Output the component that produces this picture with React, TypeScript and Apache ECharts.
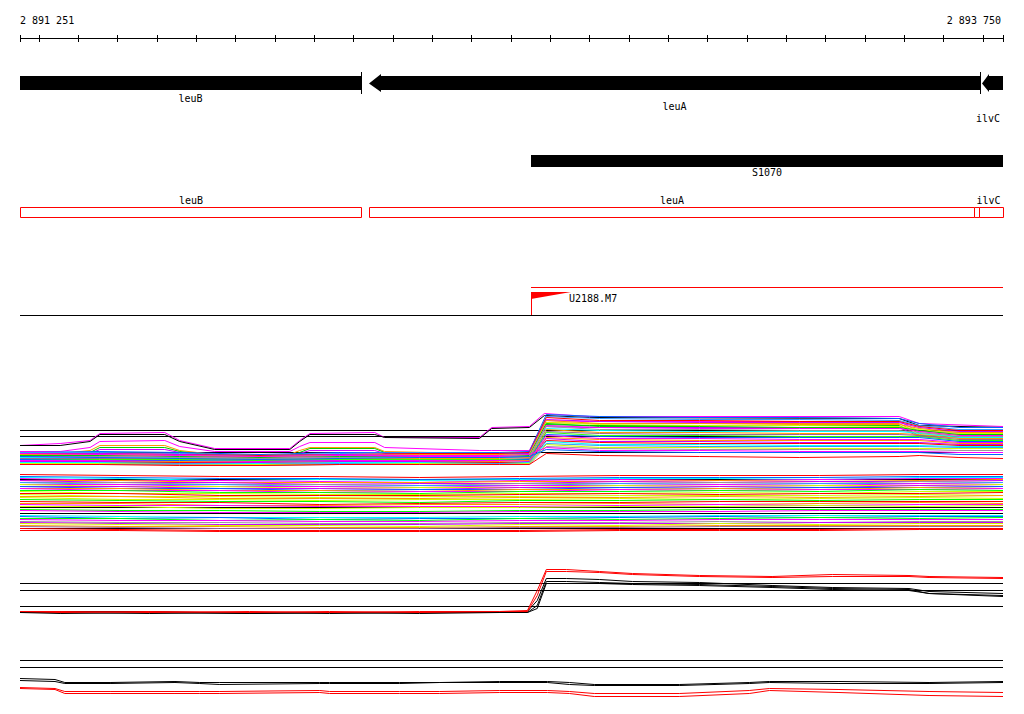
import React, { useEffect, useRef } from 'react';
import * as echarts from 'echarts';

// ---------- genomic window ----------
const viewStart = 2891251;
const viewEnd = 2893750;

const rulerTicks = [
  2891251, 2891300, 2891400, 2891500, 2891600, 2891700, 2891800, 2891900, 2892000,
  2892100, 2892200, 2892300, 2892400, 2892500, 2892600, 2892700, 2892800, 2892900,
  2893000, 2893100, 2893200, 2893300, 2893400, 2893500, 2893600, 2893700, 2893750,
];
const rulerLabels = ['2 891 251', '2 893 750'];

// ---------- annotation tracks ----------
const geneNames = ['leuB', 'leuA', 'ilvC'];
const geneStarts = [2891251, 2892137, 2893697];
const geneEnds = [2892117, 2893692, 2893750];

const segmentNames = ['S1070'];
const segmentStarts = [2892549];
const segmentEnds = [2893750];

const boxNames = ['leuB', 'leuA', '', 'ilvC'];
const boxStarts = [2891251, 2892138, 2893676, 2893689];
const boxEnds = [2892118, 2893676, 2893689, 2893750];

const siteNames = ['U2188.M7'];
const siteStarts = [2892549];
const siteEnds = [2893750];

// ---------- expression profiles ----------
const referenceLevels = [430, 436, 452, 479, 507, 513, 528, 583, 590, 606, 660, 667];

const upperX = [2891251, 2891454, 2891657, 2891861, 2892064, 2892267, 2892470, 2892546, 2892589, 2892724, 2892978, 2893232, 2893486, 2893537, 2893638, 2893750];
const upperColors = [
  '#0066ff', '#3399ff', '#ff0000', '#cc00ff', '#ff9900', '#ccff00', '#00cc00', '#ff00ff',
  '#999999', '#00ffff', '#ff9900', '#996699', '#33ff00', '#0066ff', '#ff00ff', '#ff9900',
  '#cc00ff', '#ff0000', '#00ffff', '#3399ff', '#ccff00', '#999999', '#ff00ff', '#0066ff', '#ff0000',
];
const upperY = [
  [452, 451, 452, 454, 452, 452, 452, 451, 414, 416, 417, 417, 418, 423, 427, 427],
  [452, 452, 453, 455, 453, 452, 453, 452, 416, 418, 419, 419, 420, 425, 429, 429],
  [453, 453, 454, 455, 454, 453, 453, 452, 417, 420, 420, 421, 421, 426, 430, 430],
  [454, 453, 454, 456, 454, 454, 454, 453, 419, 421, 422, 422, 422, 427, 431, 431],
  [454, 454, 455, 456, 455, 454, 454, 454, 420, 423, 423, 424, 424, 428, 432, 432],
  [455, 455, 456, 457, 455, 455, 455, 454, 422, 424, 425, 425, 426, 429, 433, 433],
  [455, 455, 456, 457, 456, 456, 456, 455, 423, 426, 426, 427, 427, 430, 434, 434],
  [456, 456, 457, 458, 457, 456, 456, 456, 425, 427, 428, 428, 428, 431, 435, 435],
  [457, 456, 457, 458, 457, 457, 457, 456, 426, 429, 429, 430, 430, 432, 436, 436],
  [457, 457, 458, 459, 458, 457, 457, 457, 428, 430, 431, 431, 431, 433, 437, 437],
  [458, 458, 458, 459, 458, 458, 458, 457, 429, 432, 432, 433, 433, 434, 438, 438],
  [458, 458, 459, 460, 459, 459, 459, 458, 431, 433, 434, 434, 434, 435, 439, 439],
  [459, 459, 459, 460, 459, 459, 459, 459, 432, 435, 435, 436, 436, 436, 440, 440],
  [459, 460, 460, 461, 460, 460, 460, 459, 434, 436, 437, 437, 437, 437, 441, 441],
  [460, 460, 461, 461, 460, 460, 460, 460, 435, 438, 438, 439, 439, 439, 442, 442],
  [461, 461, 461, 462, 461, 461, 461, 460, 437, 439, 440, 440, 440, 440, 443, 443],
  [461, 461, 462, 462, 461, 461, 462, 461, 438, 441, 441, 442, 442, 442, 444, 444],
  [462, 462, 462, 463, 462, 462, 462, 462, 440, 442, 443, 443, 443, 443, 445, 445],
  [462, 462, 463, 463, 462, 462, 463, 462, 441, 444, 444, 445, 445, 445, 446, 446],
  [463, 463, 463, 464, 463, 463, 463, 463, 443, 445, 446, 446, 446, 446, 447, 447],
  [463, 463, 464, 464, 464, 463, 464, 463, 444, 447, 447, 448, 448, 448, 448, 448],
  [464, 464, 464, 465, 464, 464, 464, 464, 446, 448, 449, 449, 449, 449, 450, 450],
  [453, 454, 455, 456, 455, 455, 455, 454, 447, 450, 450, 451, 451, 451, 452, 452],
  [456, 457, 458, 459, 458, 457, 457, 456, 449, 451, 452, 452, 452, 452, 454, 454],
  [464, 464, 465, 465, 464, 464, 464, 464, 453, 455, 456, 457, 456, 455, 457, 458],
];

const wiggleX = [2891251, 2891353, 2891429, 2891454, 2891619, 2891657, 2891746, 2891937, 2891962, 2891988, 2892153, 2892178, 2892419, 2892450, 2892546, 2892584, 2892699, 2893486, 2893537, 2893750];
const wiggleColors = ['#ff00ff', '#000000', '#ff00ff', '#ff9900', '#00cc00', '#cc00ff'];
const wiggleY = [
  [445, 443, 440, 433, 432, 440, 448, 448, 440, 433, 432, 437, 437, 427, 426, 413, 416, 416, 423, 426],
  [445, 445, 441, 434, 434, 441, 449, 449, 441, 434, 434, 437, 438, 428, 427, 415, 417, 418, 425, 427],
  [451, 451, 447, 441, 440, 446, 451, 451, 446, 442, 442, 447, 450, 450, 450, 420, 421, 421, 431, 433],
  [453, 453, 450, 445, 445, 450, 454, 454, 450, 447, 447, 451, 453, 452, 452, 422, 423, 423, 433, 435],
  [454, 454, 452, 447, 447, 451, 455, 455, 452, 448, 448, 452, 454, 453, 453, 424, 425, 425, 435, 437],
  [455, 455, 453, 449, 449, 452, 456, 456, 453, 450, 450, 453, 455, 454, 454, 426, 427, 427, 436, 438],
];

const lowerX = [2891251, 2891505, 2891759, 2892013, 2892267, 2892521, 2892775, 2893029, 2893283, 2893537, 2893750];
const lowerColors = [
  '#ff0000', '#0066ff', '#00ffff', '#ff00ff', '#ff9900', '#cc00ff', '#999999', '#3399ff',
  '#ff00ff', '#ccff00', '#cc00ff', '#0066ff', '#ff9900', '#ff00ff', '#00ff00', '#ccff00',
  '#ff0000', '#ccff00', '#ff9900', '#ccff00', '#00ff00', '#ff0000', '#ff9900', '#ff00ff',
  '#ccff00', '#00ff00', '#ff00ff', '#00ffff', '#0066ff', '#00ff00', '#ff00ff', '#999999',
  '#cc00ff', '#ccff00', '#ff9900', '#996699', '#ff0000', '#ff0000',
];
const lowerY = [
  [474, 475, 476, 476, 477, 476, 475, 475, 475, 474, 474],
  [476, 477, 478, 478, 479, 478, 477, 477, 477, 476, 476],
  [477, 478, 480, 479, 480, 479, 478, 478, 479, 477, 477],
  [478, 480, 480, 481, 482, 480, 479, 480, 479, 478, 478],
  [480, 480, 482, 482, 482, 481, 481, 480, 481, 480, 479],
  [480, 482, 482, 484, 483, 483, 481, 482, 481, 481, 480],
  [482, 482, 484, 484, 485, 483, 483, 482, 483, 481, 482],
  [482, 484, 484, 486, 485, 485, 483, 484, 483, 483, 482],
  [484, 484, 486, 486, 487, 485, 485, 484, 485, 483, 484],
  [484, 486, 486, 488, 487, 487, 485, 486, 485, 485, 484],
  [486, 486, 488, 488, 489, 487, 487, 486, 487, 485, 486],
  [486, 488, 488, 490, 489, 489, 487, 488, 487, 487, 486],
  [488, 488, 490, 490, 491, 489, 489, 488, 489, 487, 488],
  [488, 490, 490, 492, 491, 491, 489, 490, 489, 489, 488],
  [490, 490, 492, 492, 493, 491, 491, 490, 491, 489, 490],
  [491, 493, 493, 494, 494, 493, 493, 492, 493, 491, 491],
  [493, 493, 495, 495, 495, 494, 493, 494, 493, 493, 492],
  [494, 496, 496, 497, 496, 496, 495, 495, 495, 494, 495],
  [496, 496, 498, 498, 498, 497, 497, 496, 497, 496, 495],
  [497, 499, 499, 500, 499, 499, 498, 499, 498, 497, 498],
  [499, 500, 501, 501, 502, 500, 500, 499, 500, 499, 499],
  [501, 502, 502, 504, 503, 502, 502, 501, 501, 501, 501],
  [503, 503, 505, 505, 504, 504, 503, 504, 503, 502, 503],
  [504, 505, 505, 506, 506, 506, 505, 504, 505, 504, 504],
  [506, 506, 508, 508, 507, 507, 506, 506, 505, 506, 505],
  [509, 510, 510, 511, 511, 510, 510, 509, 509, 509, 509],
  [510, 511, 512, 512, 512, 511, 511, 511, 510, 510, 510],
  [515, 516, 517, 517, 517, 516, 516, 515, 515, 515, 515],
  [516, 518, 517, 519, 518, 518, 517, 516, 517, 516, 516],
  [518, 518, 520, 519, 520, 518, 519, 518, 517, 518, 517],
  [519, 520, 520, 521, 521, 520, 520, 519, 519, 519, 519],
  [521, 522, 522, 523, 523, 522, 522, 521, 522, 521, 521],
  [522, 523, 524, 524, 524, 523, 523, 523, 522, 522, 522],
  [523, 524, 525, 525, 526, 524, 525, 523, 524, 523, 523],
  [525, 526, 526, 527, 527, 526, 526, 525, 525, 525, 525],
  [526, 527, 528, 528, 528, 527, 527, 526, 526, 526, 526],
  [528, 529, 530, 530, 530, 530, 529, 529, 529, 528, 528],
  [530, 530, 531, 531, 531, 531, 530, 530, 530, 529, 529],
];

const panel2X = [2891251, 2891353, 2891581, 2891835, 2892038, 2892267, 2892470, 2892541, 2892566, 2892589, 2892640, 2892724, 2892808, 2892978, 2893163, 2893316, 2893511, 2893562, 2893750];
const panel2Colors = ['#000000', '#000000', '#000000', '#ff0000', '#ff0000'];
const panel2Y = [
  [611, 611, 611, 613, 612, 612, 612, 611, 600, 578, 578, 579, 581, 582, 585, 587, 588, 591, 593],
  [612, 612, 613, 612, 613, 612, 612, 612, 605, 581, 581, 582, 583, 584, 586, 588, 589, 593, 596],
  [612, 613, 612, 613, 612, 613, 612, 612, 608, 583, 583, 583, 584, 585, 587, 589, 590, 593, 595],
  [611, 612, 611, 612, 611, 612, 611, 610, 590, 569, 569, 571, 573, 575, 576, 574, 575, 576, 577],
  [611, 611, 612, 611, 612, 611, 611, 611, 595, 571, 571, 572, 574, 576, 577, 576, 576, 577, 578],
];

const panel3X = [2891251, 2891340, 2891365, 2891480, 2891645, 2891708, 2891759, 2892013, 2892038, 2892216, 2892318, 2892470, 2892592, 2892648, 2892711, 2892927, 2893105, 2893156, 2893333, 2893562, 2893750];
const panel3Colors = ['#000000', '#000000', '#ff0000', '#ff0000'];
const panel3Y = [
  [678, 679, 682, 682, 681, 682, 682, 682, 682, 682, 682, 681, 681, 682, 684, 684, 682, 681, 681, 682, 681],
  [680, 681, 683, 683, 682, 683, 684, 683, 683, 683, 682, 682, 682, 684, 685, 685, 683, 682, 683, 683, 682],
  [687, 688, 691, 691, 691, 691, 691, 690, 691, 691, 691, 690, 690, 691, 693, 693, 690, 688, 689, 691, 692],
  [688, 689, 693, 693, 693, 693, 693, 692, 693, 693, 693, 692, 692, 693, 696, 696, 693, 690, 692, 695, 696],
];

// ---------- layout (pixel rows) ----------
const FONT = '10px "DejaVu Sans Mono", monospace';
const ROW = {
  label: 20, ruler: 38, gene: 83, geneLabel: [98, 106, 118],
  segTop: 155, segBottom: 167, segLabel: 172,
  boxLabel: 200, boxTop: 207, boxBottom: 217,
  site: 287, flagTop: 292, flagBottom: 299, siteLabel: 298, separator: 315,
};

function buildOption() {
  const colX = (api: any, g: number) => api.coord([g, 0])[0];
  const rowY = (api: any, r: number) => api.coord([viewStart, r])[1] - 0.5; // top edge of pixel row
  const txt = (text: string, x: number, y: number, align: string, fill = '#000') => ({
    type: 'text',
    style: { text, x, y, font: FONT, fill, align, verticalAlign: 'middle' },
  });

  const series: any[] = [];

  const flat = (v: number, color: string, z: number) => ({
    type: 'line', silent: true, symbol: 'none', z,
    data: [[viewStart, v], [viewEnd, v]],
    lineStyle: { color, width: 1 },
  });

  // ruler line + separator
  series.push(flat(ROW.ruler, '#000', 3));
  series.push(flat(ROW.separator, '#000', 3));

  // ruler ticks
  series.push({
    type: 'custom', silent: true, z: 3,
    data: rulerTicks.map((t) => [t, ROW.ruler]),
    renderItem: (params: any, api: any) => {
      const x = Math.min(Math.floor(colX(api, api.value(0))), Math.floor(colX(api, viewEnd))) + 0.5;
      return {
        type: 'line',
        shape: { x1: x, y1: rowY(api, ROW.ruler - 3), x2: x, y2: rowY(api, ROW.ruler + 4) },
        style: { stroke: '#000', lineWidth: 1 },
      };
    },
  });

  // ruler labels
  series.push({
    type: 'custom', silent: true, z: 3,
    data: [[viewStart, ROW.label, 0], [viewEnd, ROW.label, 1]],
    renderItem: (params: any, api: any) => {
      const i = params.dataIndex;
      const x = colX(api, api.value(0)) + (i === 0 ? 0 : -2);
      return txt(rulerLabels[i], x, rowY(api, ROW.label) + 0.5, i === 0 ? 'left' : 'right');
    },
  });

  // genes
  series.push({
    type: 'custom', silent: true, z: 4,
    encode: { x: [0, 1], y: 2 },
    data: geneNames.map((_, i) => [geneStarts[i], geneEnds[i], ROW.gene]),
    renderItem: (params: any, api: any) => {
      const i = params.dataIndex;
      const s = api.value(0), e = api.value(1);
      const x0 = Math.round(colX(api, s)), x1 = Math.round(colX(api, e));
      const top = rowY(api, ROW.gene - 7), bot = rowY(api, ROW.gene + 7);
      const hTop = rowY(api, ROW.gene - 11), hBot = rowY(api, ROW.gene + 11);
      const mid = rowY(api, ROW.gene) + 0.5;
      const children: any[] = [];
      if (s > viewStart) {
        const hl = e >= viewEnd ? 7 : 12;
        children.push({
          type: 'polygon',
          shape: { points: [[x0, mid], [x0 + hl, hTop + 2], [x0 + hl, top], [x1, top], [x1, bot], [x0 + hl, bot], [x0 + hl, hBot - 2]] },
          style: { fill: '#000' },
        });
      } else {
        children.push({ type: 'rect', shape: { x: x0, y: top, width: x1 - x0, height: bot - top }, style: { fill: '#000' } });
      }
      if (e < viewEnd) {
        children.push({ type: 'line', shape: { x1: x1 + 0.5, y1: hTop, x2: x1 + 0.5, y2: hBot }, style: { stroke: '#000', lineWidth: 1 } });
      }
      const name = geneNames[i];
      const right = colX(api, viewEnd);
      const cx = Math.min((x0 + x1) / 2, right - name.length * 3 - 3);
      children.push(txt(name, cx, rowY(api, ROW.geneLabel[i]) + 0.5, 'center'));
      return { type: 'group', children };
    },
  });

  // segment S1070
  series.push({
    type: 'custom', silent: true, z: 4,
    encode: { x: [0, 1], y: 2 },
    data: segmentNames.map((_, i) => [segmentStarts[i], segmentEnds[i], ROW.segTop]),
    renderItem: (params: any, api: any) => {
      const i = params.dataIndex;
      const x0 = Math.round(colX(api, api.value(0))), x1 = Math.round(colX(api, api.value(1)));
      const top = rowY(api, ROW.segTop), bot = rowY(api, ROW.segBottom);
      return {
        type: 'group',
        children: [
          { type: 'rect', shape: { x: x0, y: top, width: x1 - x0, height: bot - top }, style: { fill: '#000' } },
          txt(segmentNames[i], (x0 + x1) / 2, rowY(api, ROW.segLabel) + 0.5, 'center'),
        ],
      };
    },
  });

  // red boxes
  series.push({
    type: 'custom', silent: true, z: 4,
    encode: { x: [0, 1], y: 2 },
    data: boxNames.map((_, i) => [boxStarts[i], boxEnds[i], ROW.boxTop]),
    renderItem: (params: any, api: any) => {
      const i = params.dataIndex;
      const x0 = Math.round(colX(api, api.value(0))) + 0.5;
      let x1 = Math.round(colX(api, api.value(1))) + 0.5;
      const right = Math.floor(colX(api, viewEnd)) + 0.5;
      x1 = Math.min(x1, right);
      const top = rowY(api, ROW.boxTop) + 0.5, bot = rowY(api, ROW.boxBottom) + 0.5;
      const children: any[] = [
        { type: 'rect', shape: { x: x0, y: top, width: x1 - x0, height: bot - top }, style: { fill: '#fff', stroke: '#ff0000', lineWidth: 1 } },
      ];
      const name = boxNames[i];
      if (name) {
        const cx = Math.min((x0 + x1) / 2, right - name.length * 3 - 3);
        children.push(txt(name, cx, rowY(api, ROW.boxLabel) + 0.5, 'center'));
      }
      return { type: 'group', children };
    },
  });

  // site U2188.M7
  series.push({
    type: 'custom', silent: true, z: 5,
    encode: { x: [0, 1], y: 2 },
    data: siteNames.map((_, i) => [siteStarts[i], siteEnds[i], ROW.site]),
    renderItem: (params: any, api: any) => {
      const i = params.dataIndex;
      const x0 = Math.round(colX(api, api.value(0)));
      const x1 = Math.round(colX(api, api.value(1)));
      const ySite = rowY(api, ROW.site) + 0.5;
      const fTop = rowY(api, ROW.flagTop), fBot = rowY(api, ROW.flagBottom);
      const sep = rowY(api, ROW.separator);
      return {
        type: 'group',
        children: [
          { type: 'line', shape: { x1: x0, y1: ySite, x2: x1, y2: ySite }, style: { stroke: '#ff0000', lineWidth: 1 } },
          { type: 'polygon', shape: { points: [[x0, fTop], [x0 + 40, fTop], [x0, fBot]] }, style: { fill: '#ff0000' } },
          { type: 'line', shape: { x1: x0 + 0.5, y1: fTop, x2: x0 + 0.5, y2: sep }, style: { stroke: '#ff0000', lineWidth: 1 } },
          txt(siteNames[i], x0 + 38, rowY(api, ROW.siteLabel) + 0.5, 'left'),
        ],
      };
    },
  });

  // reference lines for expression panels
  referenceLevels.forEach((v) => series.push(flat(v, '#000', 1)));

  const profiles = (xs: number[], colors: string[], ys: number[][], z: number) =>
    ys.forEach((row, i) =>
      series.push({
        type: 'line', silent: true, symbol: 'none', z,
        data: xs.map((x, j) => [x, row[j]]),
        lineStyle: { color: colors[i], width: 1 },
      })
    );

  profiles(wiggleX, wiggleColors, wiggleY, 2);
  profiles(upperX, upperColors, upperY, 2);
  profiles(lowerX, lowerColors, lowerY, 2);
  profiles(panel2X, panel2Colors, panel2Y, 2);
  profiles(panel3X, panel3Colors, panel3Y, 2);

  return {
    animation: false,
    backgroundColor: '#ffffff',
    grid: { left: 20, right: 21, top: 0, bottom: 0, containLabel: false },
    xAxis: { type: 'value', min: viewStart, max: viewEnd, show: false },
    yAxis: { type: 'value', min: -0.5, max: 713.5, inverse: true, show: false },
    series,
  };
}

export default function App() {
  const ref = useRef<HTMLDivElement>(null);
  useEffect(() => {
    if (!ref.current) return;
    const chart = echarts.init(ref.current, undefined, { renderer: 'svg' });
    chart.setOption(buildOption() as any);
    return () => chart.dispose();
  }, []);
  return (
    <div
      ref={ref}
      style={{ position: 'absolute', left: 0, top: 0, width: 1024, height: 714, background: '#fff' }}
    />
  );
}
